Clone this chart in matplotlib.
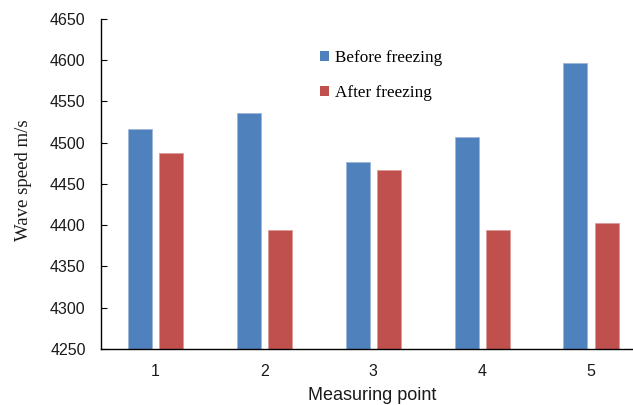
import matplotlib
matplotlib.use("Agg")
import matplotlib.pyplot as plt
import numpy as np
from matplotlib.patches import Patch

categories = ["1", "2", "3", "4", "5"]
before = [4517, 4536, 4477, 4507, 4597]
after = [4488, 4394, 4467, 4394, 4403]
yticks = [4250, 4300, 4350, 4400, 4450, 4500, 4550, 4600, 4650]

blue = "#4F81BD"
red = "#C0504D"

fig = plt.figure(figsize=(6.33, 4.05), dpi=100)
W, H = 633, 405
ax = fig.add_axes([101 / W, 1 - 349 / H, (645.5 - 101) / W, (349 - 19) / H])

x = np.arange(1, len(categories) + 1)
bw = 0.22
off = 0.143
ax.bar(x - off, before, bw, color=blue, edgecolor="#9db6d8", linewidth=0.6, label="Before freezing")
ax.bar(x + off, after, bw, color=red, edgecolor="#dc9a98", linewidth=0.6, label="After freezing")

ax.set_xlim(0.5, 5.5)
ax.set_ylim(4250, 4650)
ax.set_yticks(yticks)
ax.set_xticks(x)
ax.set_xticklabels(categories)

for s in ["top", "right"]:
    ax.spines[s].set_visible(False)
for s in ["left", "bottom"]:
    ax.spines[s].set_color("black")
    ax.spines[s].set_linewidth(1.0)

ax.tick_params(axis="y", direction="in", length=4, width=0.8, pad=11, labelsize=11.5)
ax.tick_params(axis="x", length=0, pad=11, labelsize=11.5)
for lbl in ax.get_xticklabels() + ax.get_yticklabels():
    lbl.set_fontfamily("Liberation Sans")
    lbl.set_color("#1a1a1a")

fig.text(24 / W, 1 - 180 / H, "Wave speed m/s", rotation=90, ha="center", va="center",
         fontfamily="Liberation Serif", fontsize=13.5, color="#1a1a1a")
fig.text(372 / W, 1 - 395 / H, "Measuring point", ha="center", va="center",
         fontfamily="Liberation Sans", fontsize=13, color="#1a1a1a")

handles = [Patch(facecolor=blue, edgecolor="none"), Patch(facecolor=red, edgecolor="none")]
leg = fig.legend(handles, ["Before freezing", "After freezing"], loc="upper left",
                 bbox_to_anchor=(320 / W, 1 - 50 / H), frameon=False,
                 prop={"family": "Liberation Serif", "size": 12.3},
                 handlelength=0.55, handleheight=0.55, handletextpad=0.3,
                 labelspacing=1.1, borderaxespad=0, borderpad=0)

fig.savefig("out.png", dpi=100)
